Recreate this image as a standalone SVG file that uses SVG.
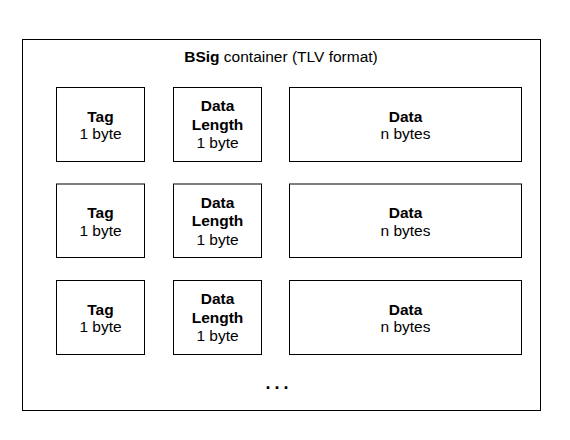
<svg xmlns="http://www.w3.org/2000/svg" width="570" height="440" viewBox="0 0 570 440">
<style>
.box{fill:#fff;stroke:#000;stroke-width:1}
text{font-family:"Liberation Sans",Arial,Helvetica,sans-serif;font-size:15.5px;fill:#000;text-anchor:middle}
.b{font-weight:bold}
</style>
<rect width="570" height="440" fill="#fff"/>
<g id="container">
<rect class="box" x="22.5" y="39.5" width="518" height="371"/>
<text x="281" y="62"><tspan class="b">BSig</tspan> container (TLV format)</text>
</g>
<g id="tag1"><rect class="box" x="56.5" y="87.5" width="88" height="74"/><text x="100.5" y="121.5" class="b">Tag</text><text x="100.5" y="139">1 byte</text></g>
<g id="len1"><rect class="box" x="173.5" y="87.5" width="88" height="74"/><text x="217.5" y="111" class="b">Data</text><text x="217.5" y="129.5" class="b">Length</text><text x="217.5" y="148">1 byte</text></g>
<g id="data1"><rect class="box" x="289.5" y="87.5" width="232" height="74"/><text x="405.5" y="121.5" class="b">Data</text><text x="405.5" y="139">n bytes</text></g>
<g id="tag2"><rect class="box" x="56.5" y="184" width="88" height="73.5"/><text x="100.5" y="218" class="b">Tag</text><text x="100.5" y="235.5">1 byte</text></g>
<g id="len2"><rect class="box" x="173.5" y="184" width="88" height="73.5"/><text x="217.5" y="207.5" class="b">Data</text><text x="217.5" y="226" class="b">Length</text><text x="217.5" y="244.5">1 byte</text></g>
<g id="data2"><rect class="box" x="289.5" y="184" width="232" height="73.5"/><text x="405.5" y="218" class="b">Data</text><text x="405.5" y="235.5">n bytes</text></g>
<g id="tag3"><rect class="box" x="56.5" y="280.5" width="88" height="74"/><text x="100.5" y="314.5" class="b">Tag</text><text x="100.5" y="332">1 byte</text></g>
<g id="len3"><rect class="box" x="173.5" y="280.5" width="88" height="74"/><text x="217.5" y="304" class="b">Data</text><text x="217.5" y="322.5" class="b">Length</text><text x="217.5" y="341">1 byte</text></g>
<g id="data3"><rect class="box" x="289.5" y="280.5" width="232" height="74"/><text x="405.5" y="314.5" class="b">Data</text><text x="405.5" y="332">n bytes</text></g>
<g id="connectors"></g>
<text x="265.5" y="389" class="b" style="font-size:18px;letter-spacing:4px;text-anchor:start">...</text>
</svg>
